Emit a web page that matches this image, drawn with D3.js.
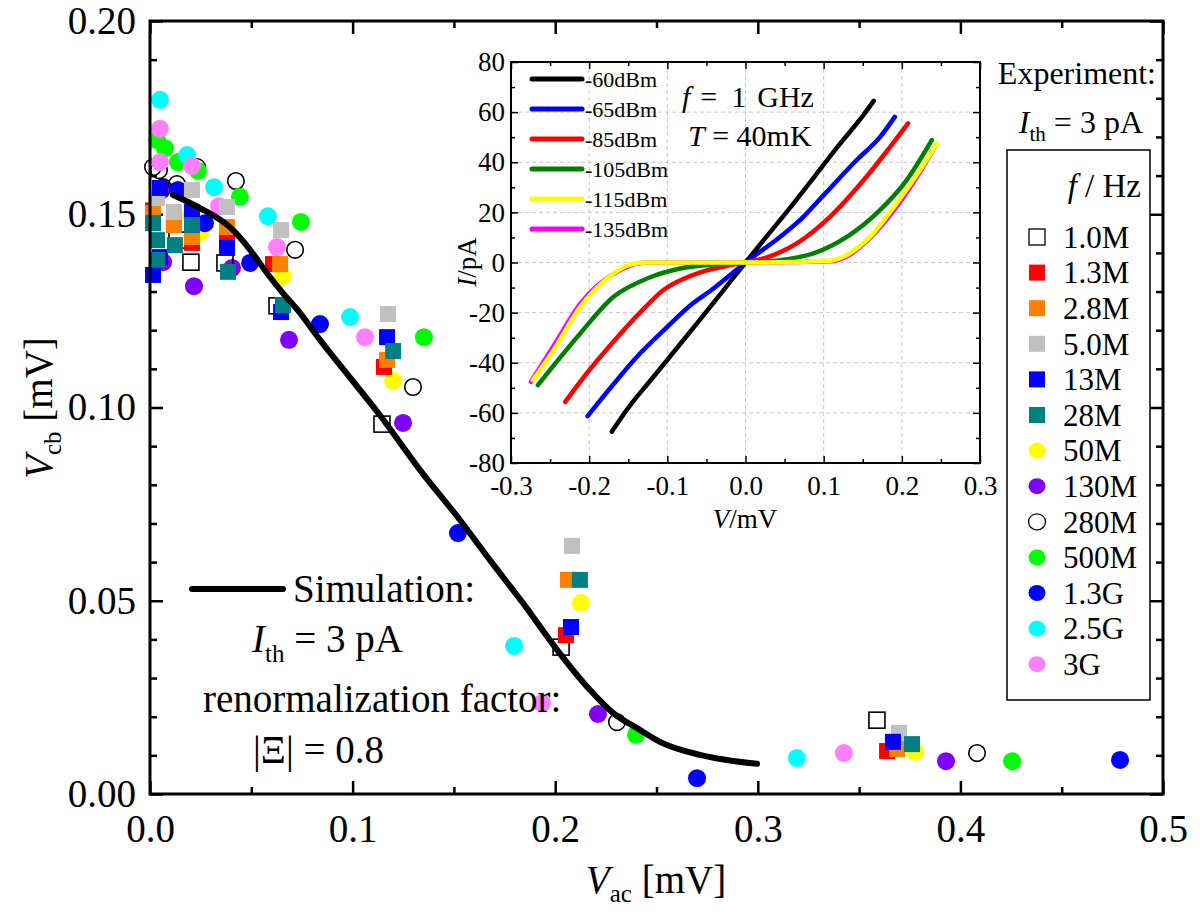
<!DOCTYPE html>
<html>
<head>
<meta charset="utf-8">
<script src="https://cdn.jsdelivr.net/npm/d3@7"></script>
<style>
body { margin: 0; background: #fff; }
svg { display: block; font-family: "Liberation Serif", "Times New Roman", serif; }
</style>
</head>
<body>
<div id="chart"></div>
<script>
// ---- main plot data: [V_ac, V_cb] in mV, one array per drive frequency ----
const f1_0M  = [[0.0133,0.1433],[0.0202,0.1376],[0.037,0.1374],[0.0627,0.1263],[0.1145,0.0957],[0.2029,0.038],[0.3588,0.0191]];
const f1_3M  = [[0.0015,0.151],[0.0118,0.148],[0.0207,0.1426],[0.038,0.1441],[0.0607,0.1371],[0.1155,0.1105],[0.2053,0.0411],[0.3638,0.0111]];
const f2_8M  = [[0.0015,0.1503],[0.0118,0.1472],[0.0207,0.1441],[0.038,0.1467],[0.0642,0.1371],[0.117,0.1123],[0.2063,0.0554],[0.3687,0.0116]];
const f5_0M  = [[0.0035,0.1542],[0.0118,0.1506],[0.0207,0.1563],[0.038,0.1519],[0.0647,0.1459],[0.1175,0.1242],[0.2083,0.0642],[0.3697,0.0158]];
const f13M   = [[0.0049,0.1568],[0.0015,0.1343],[0.0049,0.1389],[0.0207,0.1506],[0.038,0.1413],[0.0647,0.1247],[0.117,0.1182],[0.2078,0.0432],[0.3667,0.0135]];
const f28M   = [[0.0015,0.1477],[0.0035,0.1433],[0.0035,0.1382],[0.0123,0.142],[0.0207,0.1472],[0.0385,0.1351],[0.0656,0.1265],[0.12,0.1146],[0.2122,0.0554],[0.3761,0.0129]];
const f50M   = [[0.0123,0.1498],[0.0247,0.1454],[0.0656,0.134],[0.12,0.1069],[0.2127,0.0494],[0.3776,0.0109]];
const f130M  = [[0.0059,0.1563],[0.0064,0.1376],[0.0217,0.1314],[0.0405,0.1361],[0.0686,0.1175],[0.1249,0.096],[0.2211,0.0207],[0.3929,0.0085]];
const f280M  = [[0.0015,0.1622],[0.0044,0.1614],[0.0064,0.157],[0.0133,0.1578],[0.0232,0.1622],[0.0424,0.1586],[0.0716,0.1408],[0.1298,0.1053],[0.2305,0.0186],[0.4082,0.0106]];
const f500M  = [[0.0035,0.1692],[0.0074,0.1671],[0.0138,0.1635],[0.0237,0.1612],[0.0444,0.1545],[0.0745,0.148],[0.1352,0.1182],[0.2399,0.0153],[0.4255,0.0085]];
const f1_3G  = [[0.0138,0.1563],[0.0271,0.1477],[0.0494,0.1374],[0.0839,0.1216],[0.152,0.0675],[0.27,0.0041],[0.4788,0.0088]];
const f2_5G  = [[0.0049,0.1796],[0.0183,0.1653],[0.0316,0.157],[0.0582,0.1495],[0.0987,0.1234],[0.1797,0.0383],[0.3193,0.0093]];
const f3G    = [[0.0049,0.1721],[0.0049,0.1635],[0.0207,0.1625],[0.0341,0.1521],[0.0627,0.1415],[0.1061,0.1182],[0.1935,0.0235],[0.3425,0.0106]];

const freqLabels = ['1.0M','1.3M','2.8M','5.0M','13M','28M','50M','130M','280M','500M','1.3G','2.5G','3G'];
const freqColors = ['none','#ff0000','#ff8000','#c0c0c0','#0000ff','#008080','#ffff00','#8000ff','none','#00ff00','#0000ff','#00ffff','#ff80ff'];
const freqShapes = ['square','square','square','square','square','square','circle','circle','circle','circle','circle','circle','circle'];
const freqData   = [f1_0M,f1_3M,f2_8M,f5_0M,f13M,f28M,f50M,f130M,f280M,f500M,f1_3G,f2_5G,f3G];

// simulation curve
const simCurve = [[0.0114,0.155],[0.0247,0.1516],[0.041,0.1459],[0.0494,0.1408],[0.0577,0.1348],[0.0656,0.1296],
  [0.074,0.1245],[0.0839,0.1175],[0.0937,0.111],[0.1135,0.098],[0.1333,0.0838],[0.153,0.0709],[0.1678,0.0605],
  [0.1841,0.0494],[0.2009,0.0373],[0.2172,0.0269],[0.2285,0.021],[0.2418,0.0166],[0.2517,0.0135],[0.2715,0.0101],[0.2996,0.0078]];

// ---- inset I-V curves: [V mV, I pA] ----
const iv60  = [[-0.171,-67.5],[-0.15,-58],[-0.12,-46.5],[-0.09,-35],[-0.06,-23.5],[-0.03,-11.8],[0,0],[0.03,11.5],[0.06,23],[0.09,35],[0.12,47],[0.15,58.5],[0.164,64.5]];
const iv65  = [[-0.202,-61.3],[-0.17,-49],[-0.14,-38],[-0.1,-25.7],[-0.07,-17],[-0.041,-10.4],[0,0],[0.044,10.2],[0.07,17],[0.1,26.9],[0.142,40.8],[0.172,50],[0.191,58.1]];
const iv85  = [[-0.2306,-55.6],[-0.2,-43],[-0.169,-31.6],[-0.135,-20],[-0.105,-11],[-0.062,-4.4],[-0.0196,-1.1],[0,0],[0.023,1.6],[0.0656,7.6],[0.108,18.2],[0.151,32.8],[0.185,46.1],[0.208,55.5]];
const iv105 = [[-0.2656,-48.9],[-0.2114,-28.3],[-0.1688,-13.7],[-0.126,-6.4],[-0.0835,-2.4],[-0.041,-0.8],[0,0],[0.044,0.9],[0.087,3.6],[0.1296,10.2],[0.172,20.9],[0.206,32.8],[0.2383,48.8]];
const iv115 = [[-0.272,-46.9],[-0.2455,-35],[-0.2114,-17.7],[-0.177,-6.4],[-0.1475,-0.8],[-0.126,0],[0,0],[0.108,0.7],[0.125,2.3],[0.159,10.2],[0.193,23.5],[0.223,36.8],[0.2447,47.5]];
const iv135 = [[-0.2745,-47.6],[-0.245,-33],[-0.2114,-16.4],[-0.16,-3],[-0.14,-0.5],[-0.12,0],[0,0],[0.11,0.5],[0.13,2.5],[0.16,10],[0.195,23],[0.225,37],[0.242,46]];

const ivLabels = ['-60dBm','-65dBm','-85dBm','-105dBm','-115dBm','-135dBm'];
const ivColors = ['#000000','#0000ff','#ff0000','#008000','#ffff00','#ff00ff'];
const ivData   = [iv60, iv65, iv85, iv105, iv115, iv135];

// ticks
const xMajor = [0, 0.1, 0.2, 0.3, 0.4, 0.5];
const xMinor = [0.05, 0.15, 0.25, 0.35, 0.45];
const yMajor = [0, 0.05, 0.1, 0.15, 0.2];
const yMinor = [0.01,0.02,0.03,0.04,0.06,0.07,0.08,0.09,0.11,0.12,0.13,0.14,0.16,0.17,0.18,0.19];
const ixMajor = [-0.3,-0.2,-0.1,0,0.1,0.2,0.3];
const ixMinor = [-0.25,-0.15,-0.05,0.05,0.15,0.25];
const iyMajor = [-80,-60,-40,-20,0,20,40,60,80];
const iyMinor = [-70,-50,-30,-10,10,30,50,70];

const svg = d3.select('#chart').append('svg')
    .attr('width', 1200)
    .attr('height', 912);

const x = d3.scaleLinear().domain([0, 0.5]).range([150, 1163]);
const y = d3.scaleLinear().domain([0, 0.2]).range([794, 21]);

function styleAxis(g, sw, fs) {
    g.select('.domain').remove();
    g.selectAll('line').attr('stroke', '#000').attr('stroke-width', sw);
    g.selectAll('text').attr('font-size', fs).attr('fill', '#000').attr('font-family', '"Liberation Serif", serif');
}

// ---- main axes ----
const fmt2 = d => d.toFixed(2);
const fmt1 = d => d.toFixed(1);

svg.append('g').attr('transform', 'translate(0,794)')
    .call(d3.axisBottom(x).tickValues(xMinor).tickSize(-7).tickFormat(''))
    .call(g => styleAxis(g, 2.5, 39));
svg.append('g').attr('transform', 'translate(0,794)')
    .call(d3.axisBottom(x).tickValues(xMajor).tickSize(-13).tickPadding(20).tickFormat(fmt1))
    .call(g => styleAxis(g, 2.5, 39));
svg.append('g').attr('transform', 'translate(0,21)')
    .call(d3.axisTop(x).tickValues(xMinor).tickSize(-7).tickFormat(''))
    .call(g => styleAxis(g, 2.5, 39));
svg.append('g').attr('transform', 'translate(0,21)')
    .call(d3.axisTop(x).tickValues(xMajor).tickSize(-13).tickFormat(''))
    .call(g => styleAxis(g, 2.5, 39));

svg.append('g').attr('transform', 'translate(150,0)')
    .call(d3.axisLeft(y).tickValues(yMinor).tickSize(-7).tickFormat(''))
    .call(g => styleAxis(g, 2.5, 39));
svg.append('g').attr('transform', 'translate(150,0)')
    .call(d3.axisLeft(y).tickValues(yMajor).tickSize(-13).tickPadding(14).tickFormat(fmt2))
    .call(g => styleAxis(g, 2.5, 39));
svg.append('g').attr('transform', 'translate(1163,0)')
    .call(d3.axisRight(y).tickValues(yMinor).tickSize(-7).tickFormat(''))
    .call(g => styleAxis(g, 2.5, 39));
svg.append('g').attr('transform', 'translate(1163,0)')
    .call(d3.axisRight(y).tickValues(yMajor).tickSize(-13).tickFormat(''))
    .call(g => styleAxis(g, 2.5, 39));

// axis titles
const xt = svg.append('text').attr('x', 656).attr('y', 893).attr('text-anchor', 'middle').attr('font-size', 39);
xt.append('tspan').attr('font-style', 'italic').text('V');
xt.append('tspan').attr('font-size', 25).attr('dy', 9).text('ac');
xt.append('tspan').attr('dy', -9).text(' [mV]');

const yt = svg.append('text').attr('transform', 'translate(52,408) rotate(-90)').attr('text-anchor', 'middle').attr('font-size', 39);
yt.append('tspan').attr('font-style', 'italic').text('V');
yt.append('tspan').attr('font-size', 25).attr('dy', 9).text('cb');
yt.append('tspan').attr('dy', -9).text(' [mV]');

// ---- scatter ----
const drawOrder = [6,7,8,9,10,11,12,0,1,2,3,4,5];
const marks = svg.append('g');
drawOrder.forEach(i => {
    const open = freqColors[i] === 'none';
    const sel = marks.append('g').selectAll('.m').data(freqData[i]).enter();
    if (freqShapes[i] === 'square') {
        sel.append('rect')
            .attr('x', d => x(d[0]) - 8).attr('y', d => y(d[1]) - 8)
            .attr('width', 16).attr('height', 16)
            .attr('fill', open ? 'none' : freqColors[i])
            .attr('stroke', open ? '#000' : 'none').attr('stroke-width', 1.6);
    } else {
        sel.append('circle')
            .attr('cx', d => x(d[0])).attr('cy', d => y(d[1])).attr('r', open ? 8.3 : 9)
            .attr('fill', open ? 'none' : freqColors[i])
            .attr('stroke', open ? '#000' : 'none').attr('stroke-width', 1.6);
    }
});

// simulation line
svg.append('path').datum(simCurve)
    .attr('d', d3.line().x(d => x(d[0])).y(d => y(d[1])).curve(d3.curveMonotoneX))
    .attr('fill', 'none').attr('stroke', '#000').attr('stroke-width', 6).attr('stroke-linecap', 'round');

// main frame
svg.append('rect').attr('x', 150).attr('y', 21).attr('width', 1013).attr('height', 773)
    .attr('fill', 'none').attr('stroke', '#000').attr('stroke-width', 3);

// simulation annotation
svg.append('line').attr('x1', 192).attr('x2', 283).attr('y1', 589).attr('y2', 589)
    .attr('stroke', '#000').attr('stroke-width', 6).attr('stroke-linecap', 'round');
svg.append('text').attr('x', 293).attr('y', 602).attr('font-size', 39).text('Simulation:');
const ith = svg.append('text').attr('x', 252).attr('y', 652).attr('font-size', 39);
ith.append('tspan').attr('font-style', 'italic').text('I');
ith.append('tspan').attr('font-size', 25).attr('dy', 10).text('th');
ith.append('tspan').attr('dy', -10).text(' = 3 pA');
svg.append('text').attr('x', 203).attr('y', 712).attr('font-size', 39).text('renormalization factor:');
svg.append('text').attr('x', 253).attr('y', 763).attr('font-size', 39).text('|\u039E| = 0.8');

// experiment legend
svg.append('text').attr('x', 1156).attr('y', 84).attr('text-anchor', 'end').attr('font-size', 32).text('Experiment:');
const eth = svg.append('text').attr('x', 1143).attr('y', 133).attr('text-anchor', 'end').attr('font-size', 32);
eth.append('tspan').attr('font-style', 'italic').text('I');
eth.append('tspan').attr('font-size', 21).attr('dy', 8).text('th');
eth.append('tspan').attr('dy', -8).text(' = 3 pA');

svg.append('rect').attr('x', 1007).attr('y', 150).attr('width', 143).attr('height', 550)
    .attr('fill', '#fff').attr('stroke', '#000').attr('stroke-width', 1.5);
const lt = svg.append('text').attr('x', 1141).attr('y', 197).attr('text-anchor', 'end').attr('font-size', 33);
lt.append('tspan').attr('font-style', 'italic').text('f');
lt.append('tspan').text(' / Hz');

const leg = svg.append('g').selectAll('g').data(freqLabels).enter().append('g')
    .attr('transform', (d, i) => `translate(1037,${237 + i * 35.6})`);
leg.each(function(d, i) {
    const g = d3.select(this);
    const open = freqColors[i] === 'none';
    if (freqShapes[i] === 'square') {
        g.append('rect').attr('x', -8).attr('y', -8).attr('width', 16).attr('height', 16)
            .attr('fill', open ? '#fff' : freqColors[i]).attr('stroke', open ? '#000' : 'none').attr('stroke-width', 1.3);
    } else {
        g.append('ellipse').attr('rx', 8.5).attr('ry', 8).attr('fill', open ? '#fff' : freqColors[i])
            .attr('stroke', open ? '#000' : 'none').attr('stroke-width', 1.3);
    }
    g.append('text').attr('x', 26).attr('dy', '0.35em').attr('font-size', 31).text(d);
});

// ---- inset ----
const ix = d3.scaleLinear().domain([-0.3, 0.3]).range([511, 980]);
const iy = d3.scaleLinear().domain([-80, 80]).range([463, 62]);
const inset = svg.append('g');

inset.append('rect').attr('x', 511).attr('y', 62).attr('width', 469).attr('height', 401).attr('fill', '#fff');

// grid
inset.append('g').selectAll('line').data(ixMajor.slice(1, -1)).enter().append('line')
    .attr('x1', d => ix(d)).attr('x2', d => ix(d)).attr('y1', 62).attr('y2', 463)
    .attr('stroke', '#c8c8c8').attr('stroke-width', 1).attr('stroke-dasharray', '4,3');
inset.append('g').selectAll('line').data(iyMajor.slice(1, -1)).enter().append('line')
    .attr('y1', d => iy(d)).attr('y2', d => iy(d)).attr('x1', 511).attr('x2', 980)
    .attr('stroke', '#c8c8c8').attr('stroke-width', 1).attr('stroke-dasharray', '4,3');

// curves (-135dBm first so yellow lies over it)
const ivLine = d3.line().x(d => ix(d[0])).y(d => iy(d[1])).curve(d3.curveMonotoneX);
[5, 0, 1, 2, 3, 4].forEach(i => {
    inset.append('path').datum(ivData[i]).attr('d', ivLine)
        .attr('fill', 'none').attr('stroke', ivColors[i]).attr('stroke-width', 4.5).attr('stroke-linecap', 'round');
});

const ivfmt = d => String(d);
inset.append('g').attr('transform', 'translate(0,463)')
    .call(d3.axisBottom(ix).tickValues(ixMinor).tickSize(-4).tickFormat(''))
    .call(g => styleAxis(g, 1.5, 27));
inset.append('g').attr('transform', 'translate(0,463)')
    .call(d3.axisBottom(ix).tickValues(ixMajor).tickSize(-7).tickPadding(13).tickFormat(fmt1))
    .call(g => styleAxis(g, 1.5, 27));
inset.append('g').attr('transform', 'translate(0,62)')
    .call(d3.axisTop(ix).tickValues(ixMinor).tickSize(-4).tickFormat(''))
    .call(g => styleAxis(g, 1.5, 27));
inset.append('g').attr('transform', 'translate(0,62)')
    .call(d3.axisTop(ix).tickValues(ixMajor).tickSize(-7).tickFormat(''))
    .call(g => styleAxis(g, 1.5, 27));
inset.append('g').attr('transform', 'translate(511,0)')
    .call(d3.axisLeft(iy).tickValues(iyMinor).tickSize(-4).tickFormat(''))
    .call(g => styleAxis(g, 1.5, 27));
inset.append('g').attr('transform', 'translate(511,0)')
    .call(d3.axisLeft(iy).tickValues(iyMajor).tickSize(-7).tickPadding(6).tickFormat(ivfmt))
    .call(g => styleAxis(g, 1.5, 27));
inset.append('g').attr('transform', 'translate(980,0)')
    .call(d3.axisRight(iy).tickValues(iyMinor).tickSize(-4).tickFormat(''))
    .call(g => styleAxis(g, 1.5, 27));
inset.append('g').attr('transform', 'translate(980,0)')
    .call(d3.axisRight(iy).tickValues(iyMajor).tickSize(-7).tickFormat(''))
    .call(g => styleAxis(g, 1.5, 27));

inset.append('rect').attr('x', 511).attr('y', 62).attr('width', 469).attr('height', 401)
    .attr('fill', 'none').attr('stroke', '#000').attr('stroke-width', 2);

const ixt = inset.append('text').attr('x', 745).attr('y', 528).attr('text-anchor', 'middle').attr('font-size', 27);
ixt.append('tspan').attr('font-style', 'italic').text('V');
ixt.append('tspan').text('/mV');
const iyt = inset.append('text').attr('transform', 'translate(476,262) rotate(-90)').attr('text-anchor', 'middle').attr('font-size', 27);
iyt.append('tspan').attr('font-style', 'italic').text('I');
iyt.append('tspan').text('/pA');

// inset legend
const ileg = inset.append('g').selectAll('g').data(ivLabels).enter().append('g')
    .attr('transform', (d, i) => `translate(532,${79 + i * 30})`);
ileg.append('line').attr('x1', 0).attr('x2', 50)
    .attr('stroke', (d, i) => ivColors[i]).attr('stroke-width', 5).attr('stroke-linecap', 'round');
ileg.append('text').attr('x', 53).attr('dy', '0.35em').attr('font-size', 22).text(d => d);

const tf = inset.append('text').attr('x', 682).attr('y', 107).attr('font-size', 30);
tf.append('tspan').attr('font-style', 'italic').text('f');
tf.append('tspan').attr('dx', 10).text('=');
tf.append('tspan').attr('dx', 14).text('1');
tf.append('tspan').attr('dx', 11).text('GHz');
const tt = inset.append('text').attr('x', 688).attr('y', 146).attr('font-size', 30);
tt.append('tspan').attr('font-style', 'italic').text('T');
tt.append('tspan').text(' = 40mK');
</script>
</body>
</html>
